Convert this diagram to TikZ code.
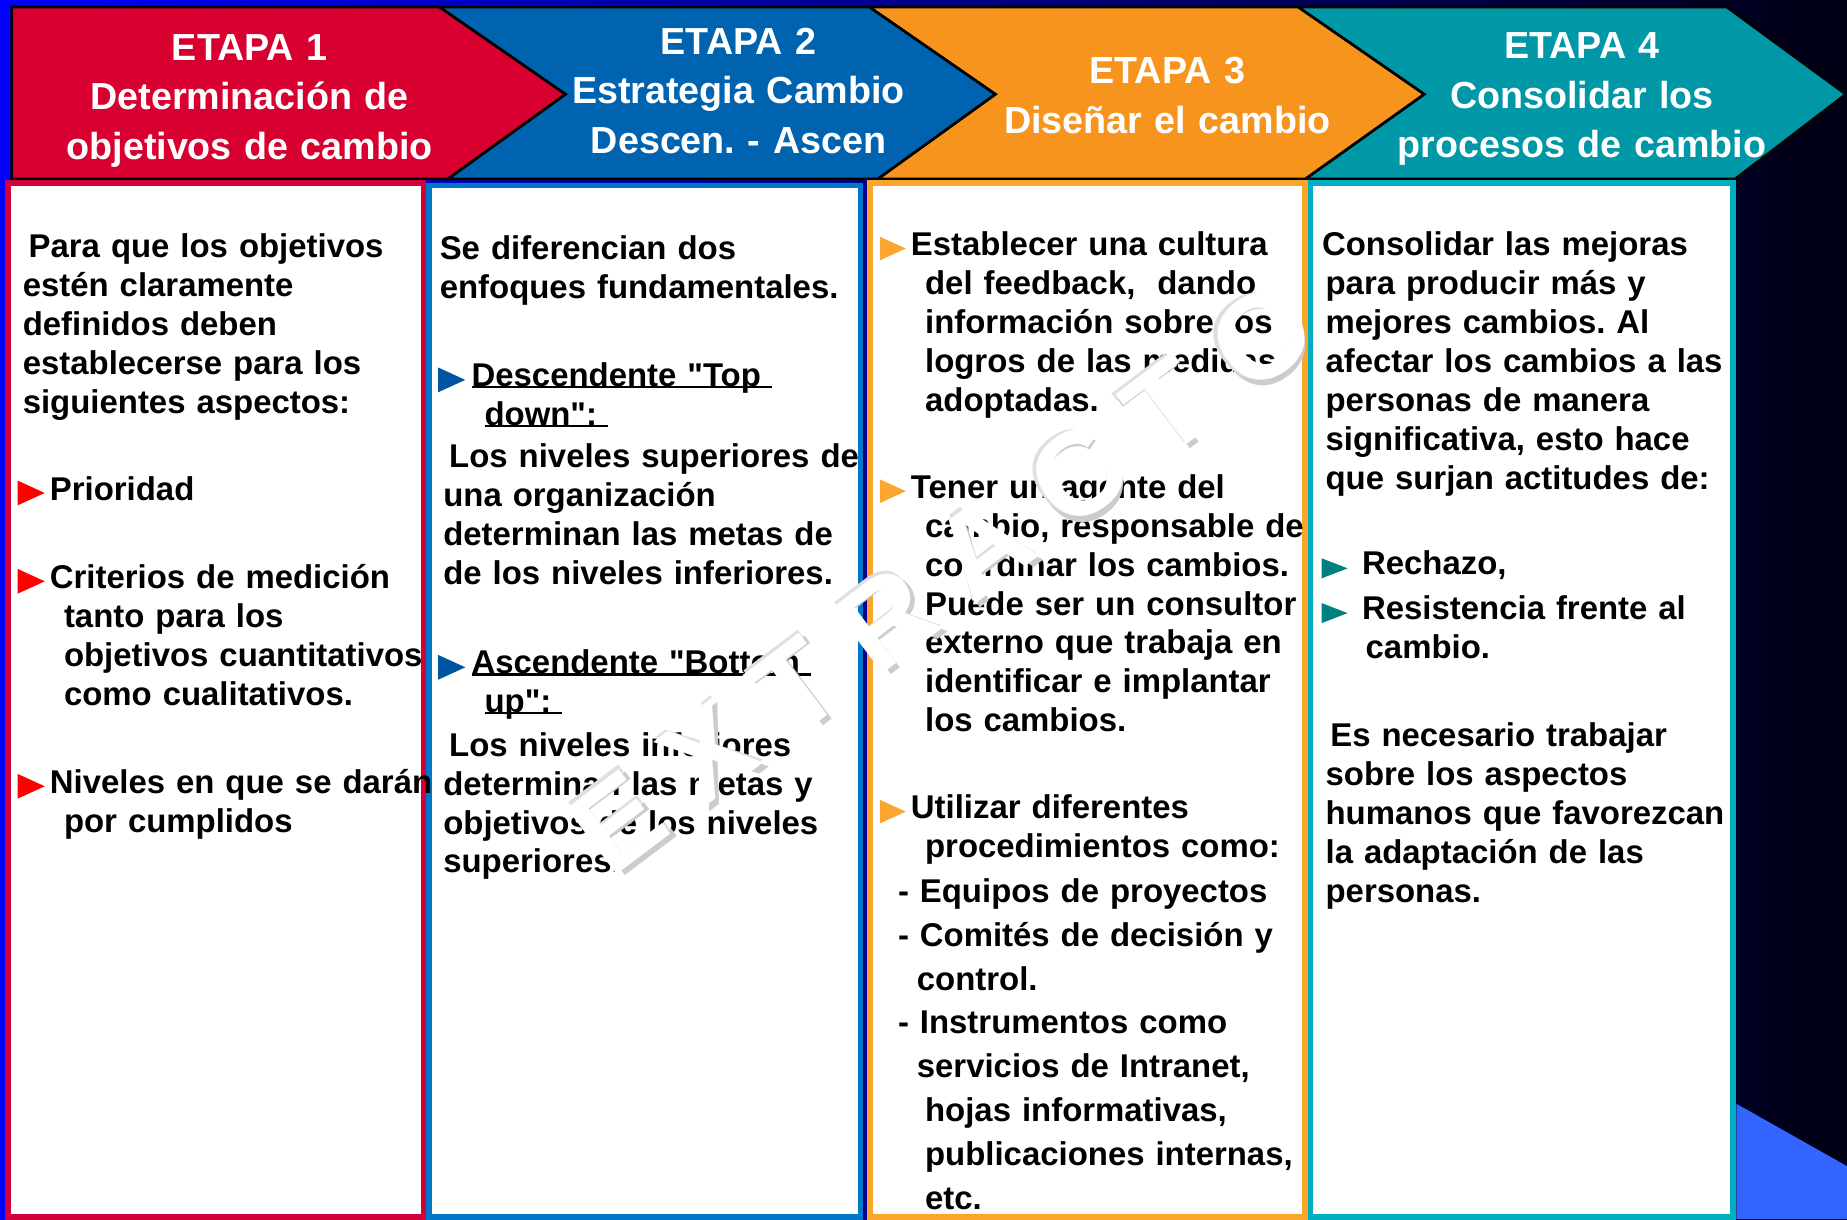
\documentclass[tikz,border=0pt]{standalone}
\usepackage{fontspec}
\setmainfont{Liberation Sans}
\usetikzlibrary{positioning}
\setlength{\parindent}{0pt}
\frenchspacing

\definecolor{etapared}{HTML}{D70030}
\definecolor{etapablue}{HTML}{0063AF}
\definecolor{etapaorange}{HTML}{F7941D}
\definecolor{etapateal}{HTML}{0097A7}
\definecolor{boxred}{HTML}{D2003A}
\definecolor{boxblue}{HTML}{0077C8}
\definecolor{boxorange}{HTML}{F9A62B}
\definecolor{boxteal}{HTML}{00AFBF}
\definecolor{bulred}{HTML}{FF0000}
\definecolor{bulblue}{HTML}{0055A0}
\definecolor{bulorange}{HTML}{FBA631}
\definecolor{bulteal}{HTML}{008080}
\definecolor{bgblue}{HTML}{0000FF}
\definecolor{bgdark}{HTML}{000014}
\definecolor{cornerblue}{HTML}{3366FF}

\tikzstyle{head} = [text=white, font=\bfseries\fontsize{18.2}{23.9}\selectfont, align=center, inner sep=0pt, text width=80mm, anchor=base]
\tikzstyle{body} = [font=\bfseries\fontsize{15.9}{18.8}\selectfont, align=left, inner sep=0pt, text width=80mm, anchor=base west]
\tikzstyle{bodylist} = [body, font=\bfseries\fontsize{15.9}{21.2}\selectfont]
\tikzstyle{panel} = [fill=white, line width=1mm]
\tikzstyle{chevron} = [draw=black, line width=0.45mm, line join=miter]
\tikzstyle{marktext} = [font=\fontsize{58}{58}\selectfont, rotate=37, inner sep=0pt]

\newcommand{\ind}{\hspace*{2.4mm}}
\newcommand{\subrayado}[1]{\setbox0\hbox{#1}\rlap{\rule[-0.3mm]{\wd0}{0.4mm}}\box0}

\begin{document}
\begin{tikzpicture}[x=0.2mm,y=-0.2mm]
	\useasboundingbox (0,0) rectangle (1568,1035);
	\shade[left color=bgblue, right color=bgdark] (0,0) rectangle (1568,1035);
	\fill[cornerblue] (1474,937) -- (1568,990) -- (1568,1035) -- (1474,1035) -- cycle;

	% etapas
	\filldraw[chevron, fill=etapateal] (1102,6) -- (1466,6) -- (1567,80) -- (1473,152) -- (1108,152) -- (1209,80) -- cycle;
	\filldraw[chevron, fill=etapaorange] (738,6) -- (1102,6) -- (1209,80) -- (1108,152) -- (745,152) -- (845,80) -- cycle;
	\filldraw[chevron, fill=etapablue] (373,6) -- (738,6) -- (845,80) -- (745,152) -- (380,152) -- (480,80) -- cycle;
	\filldraw[chevron, fill=etapared] (10,6) -- (373,6) -- (480,80) -- (380,152) -- (10,152) -- cycle;

	\node[head] (etapa1) at (212,51) {ETAPA 1\\Determinación de\\objetivos de cambio};
	\node[head] (etapa2) at (627,46) {ETAPA 2\\Estrategia Cambio\\Descen. - Ascen};
	\node[head] (etapa3) at (991,71) {ETAPA 3\\Diseñar el cambio};
	\node[head] (etapa4) at (1343,50) {ETAPA 4\\Consolidar los\\procesos de cambio};

	% cuadros
	\filldraw[panel, draw=boxred] (6.5,155.5) rectangle (359.5,1033);
	\filldraw[panel, draw=boxblue] (364.5,157.5) rectangle (730.5,1033);
	\filldraw[panel, draw=boxorange] (738.5,155.5) rectangle (1107.5,1033);
	\filldraw[panel, draw=boxteal] (1112.5,155.5) rectangle (1471.5,1033);

	% vinetas
	\foreach \y in {425,500,674}
		\fill[bulred] (15,\y+4) -- (15,\y-17) -- (38,\y-6.5) -- cycle;
	\foreach \y in {328,572}
		\fill[bulblue] (372,\y+5) -- (372,\y-16) -- (395,\y-5.5) -- cycle;
	\foreach \y in {217,423,695}
		\fill[bulorange] (747,\y+4) -- (747,\y-16) -- (769,\y-6) -- cycle;
	\foreach \y in {488,526}
		\fill[bulteal] (1122,\y+3) -- (1122,\y-14) -- (1144,\y-5.5) -- cycle;

	\node[body] (p1-intro) at (19,219) {\hspace*{1mm}Para que los objetivos\\estén claramente\\definidos deben\\establecerse para los\\siguientes aspectos:};
	\node[body] (p1-prio) at (42,425) {Prioridad};
	\node[body] (p1-crit) at (42,500) {Criterios de medición\\\ind tanto para los\\\ind objetivos cuantitativos\\\ind como cualitativos.};
	\node[body] (p1-niv) at (42,674) {Niveles en que se darán\\\ind por cumplidos};

	\node[body] (p2-intro) at (373,220) {Se diferencian dos\\enfoques fundamentales.};
	\node[body] (p2-desc) at (400,328) {\subrayado{Descendente \textquotedbl Top }\\\hspace*{2.2mm}\subrayado{down\textquotedbl: }};
	\node[body] (p2-desc-txt) at (376,397) {\hspace*{1mm}Los niveles superiores de\\una organización\\determinan las metas de\\de los niveles inferiores.};
	\node[body] (p2-asc) at (400,572) {\subrayado{Ascendente \textquotedbl Bottom }\\\hspace*{2.2mm}\subrayado{up\textquotedbl: }};
	\node[body] (p2-asc-txt) at (376,642) {\hspace*{1mm}Los niveles inferiores\\determinan las metas y\\objetivos de los niveles\\superiores.};

	\node[body] (p3-cultura) at (773,217) {Establecer una cultura\\\ind del feedback, \ dando\\\ind información sobre los\\\ind logros de las medidas\\\ind adoptadas.};
	\node[body] (p3-agente) at (773,423) {Tener un agente del\\\ind cambio, responsable de\\\ind coordinar los cambios.\\\ind Puede ser un consultor\\\ind externo que trabaja en\\\ind identificar e implantar\\\ind los cambios.};
	\node[body] (p3-proc) at (773,695) {Utilizar diferentes\\\ind procedimientos como:};
	\node[bodylist] (p3-lista) at (762,766) {- Equipos de proyectos\\- Comités de decisión y\\\hspace*{3.2mm}control.\\- Instrumentos como\\\hspace*{3.2mm}servicios de Intranet,\\\hspace*{4.6mm}hojas informativas,\\\hspace*{4.6mm}publicaciones internas,\\\hspace*{4.6mm}etc.};

	\node[body] (p4-intro) at (1122,217) {Consolidar las mejoras\\\hspace*{0.6mm}para producir más y\\\hspace*{0.6mm}mejores cambios. Al\\\hspace*{0.6mm}afectar los cambios a las\\\hspace*{0.6mm}personas de manera\\\hspace*{0.6mm}significativa, esto hace\\\hspace*{0.6mm}que surjan actitudes de:};
	\node[body] (p4-rechazo) at (1156,488) {Rechazo,};
	\node[body] (p4-resist) at (1156,526) {Resistencia frente al\\\hspace*{0.6mm}cambio.};
	\node[body] (p4-trabajar) at (1125,634) {\hspace*{0.8mm}Es necesario trabajar\\sobre los aspectos\\humanos que favorezcan\\la adaptación de las\\personas.};

	% marca de agua
	\node[marktext, text=gray!40] (marca-sombra) at (803.5,493.5) {E X T R A C T O};
	\node[marktext, text=gray!25] (marca-borde) at (798,488) {E X T R A C T O};
	\node[marktext, text=white, font=\bfseries\fontsize{58}{58}\selectfont] (marca) at (800,490) {E X T R A C T O};
\end{tikzpicture}
\end{document}
